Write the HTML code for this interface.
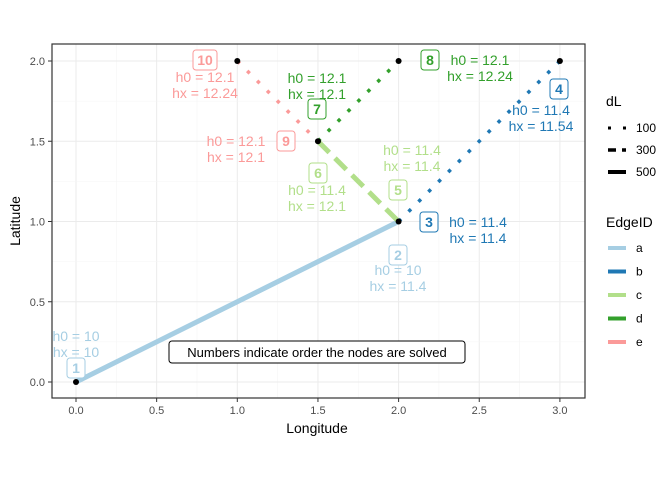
<!DOCTYPE html>
<html><head><meta charset="utf-8"><style>
body{margin:0;background:#fff;}
svg text{font-family:"Liberation Sans",Arial,sans-serif;}
</style></head><body>
<svg id="chart" width="672" height="480" xmlns="http://www.w3.org/2000/svg">
<defs><clipPath id="pc"><rect x="52" y="44" width="533" height="354"/></clipPath></defs>
<rect x="52" y="44" width="533" height="354" fill="#fff"/>
<g id="grid"></g>
<g id="edges" clip-path="url(#pc)"></g>
<g id="nodes" clip-path="url(#pc)"></g>
<g id="labels" clip-path="url(#pc)"></g>
<rect x="52" y="44" width="533" height="354" fill="none" stroke="#333" stroke-width="1.2"/>
<g id="axes"></g>
<text x="317" y="433" font-size="14" text-anchor="middle">Longitude</text>
<text transform="translate(20,221) rotate(-90)" font-size="14" text-anchor="middle">Latitude</text>
<g>
<rect x="169" y="341" width="296" height="22" rx="3" fill="#fff" stroke="#000" stroke-width="1"/>
<text x="317" y="357" font-size="13" text-anchor="middle">Numbers indicate order the nodes are solved</text>
</g>
<g>
<text x="606" y="106" font-size="14">dL</text>
<line x1="608" y1="128" x2="626" y2="128" stroke="#000" stroke-width="3" stroke-dasharray="3 12"/>
<text x="636" y="132" font-size="12">100</text>
<line x1="608" y1="150" x2="626" y2="150" stroke="#000" stroke-width="3.5" stroke-dasharray="8 6"/>
<text x="636" y="154" font-size="12">300</text>
<line x1="608" y1="172" x2="626" y2="172" stroke="#000" stroke-width="4"/>
<text x="636" y="176" font-size="12">500</text>
</g>
<g id="legend-edge">
<text x="606" y="227" font-size="14">EdgeID</text>
</g>
</svg>
<script>
const categories=['a','b','c','d','e'];
const colors=['#A6CEE3','#1F78B4','#B2DF8A','#33A02C','#FB9A99'];
const fromX=[0,2,1.5,1.5,1];
const fromY=[0,1,1.5,1.5,2];
const toX=[2,3,2,2,1.5];
const toY=[1,2,1,2,1.5];
const dL=[500,100,300,100,100];
const nodeX=[0,2,3,1.5,1,2];
const nodeY=[0,1,2,1.5,2,2];
const xTicks=[0,0.5,1,1.5,2,2.5,3];
const yTicks=[0,0.5,1,1.5,2];
const xs=v=>76+v*161.3;
const ys=v=>382-v*160.5;
const NS='http://www.w3.org/2000/svg';
function mk(tag,attrs,parent){const e=document.createElementNS(NS,tag);for(const k in attrs)e.setAttribute(k,attrs[k]);parent.appendChild(e);return e;}
const grid=document.getElementById('grid'),axes=document.getElementById('axes');
xTicks.forEach((t,i)=>{
 const g=mk('line',{x1:xs(t),x2:xs(t),y1:44,y2:398,stroke:'#ebebeb','stroke-width':1},grid);
 
 
 if(i<xTicks.length-1){const m=mk('line',{x1:xs(t+0.25),x2:xs(t+0.25),y1:44,y2:398,stroke:'#f5f5f5','stroke-width':0.6},grid);
 
 }
 mk('line',{x1:xs(t),x2:xs(t),y1:398,y2:402,stroke:'#333'},axes);
 const tx=mk('text',{x:xs(t),y:414,'font-size':11,fill:'#4d4d4d','text-anchor':'middle'},axes);
 tx.textContent=t.toFixed(1);
 
 
});
yTicks.forEach((t,i)=>{
 const g=mk('line',{x1:52,x2:585,y1:ys(t),y2:ys(t),stroke:'#ebebeb','stroke-width':1},grid);
 
 
 if(i<yTicks.length-1){const m=mk('line',{x1:52,x2:585,y1:ys(t+0.25),y2:ys(t+0.25),stroke:'#f5f5f5','stroke-width':0.6},grid);
 
 }
 mk('line',{x1:48,x2:52,y1:ys(t),y2:ys(t),stroke:'#333'},axes);
 const tx=mk('text',{x:45,y:ys(t)+4,'font-size':11,fill:'#4d4d4d','text-anchor':'end'},axes);
 tx.textContent=t.toFixed(1);
 
 
});
const eg=document.getElementById('edges');
categories.forEach((c,i)=>{
 const st={500:{w:5,d:'none'},300:{w:5,d:'16 8'},100:{w:3.5,d:'3.5 10.5'}}[dL[i]];
 const l=mk('line',{x1:xs(fromX[i]),y1:ys(fromY[i]),x2:xs(toX[i]),y2:ys(toY[i]),stroke:colors[i],'stroke-width':st.w,'stroke-dasharray':st.d},eg);
 
 
});
const ng=document.getElementById('nodes');
nodeX.forEach((x,i)=>{
 const p=mk('circle',{cx:xs(x),cy:ys(nodeY[i]),r:3,fill:'#000'},ng);
 
 
});
const orderNum=['1','2','3','4','5','6','7','8','9','10'];
const orderCol=[0,0,1,1,2,2,3,3,4,4];
const boxPos=[[76,368],[398,255],[429,222],[559,89],[398,190],[318,173],[317,109],[430,60],[286,141],[205,60]];
const h0=['10','10','11.4','11.4','11.4','11.4','12.1','12.1','12.1','12.1'];
const hx=['10','11.4','11.4','11.54','11.4','12.1','12.1','12.24','12.1','12.24'];
const txtPos=[[76,341],[398,275],[478,227],[541,115],[412,155],[317,195],[317,83],[480,65],[236,146],[205,82]];
const lg=document.getElementById('labels');
orderNum.forEach((n,i)=>{
 const col=colors[orderCol[i]];
 const [bx,by]=boxPos[i];
 const w=n.length>1?24:18;
 const g=mk('g',{},lg);
 
 
 mk('rect',{x:bx-w/2,y:by-10,width:w,height:20,rx:3,fill:'#fff',stroke:col,'stroke-width':1},g);
 const t=mk('text',{x:bx,y:by+5,'font-size':14,'font-weight':'bold','text-anchor':'middle',fill:col},g);
 t.textContent=n;
 const [tx,ty]=txtPos[i];
 const a=mk('text',{x:tx,y:ty,'font-size':14,'text-anchor':'middle',fill:col},g);
 a.textContent='h0 = '+h0[i];
 const b=mk('text',{x:tx,y:ty+16,'font-size':14,'text-anchor':'middle',fill:col},g);
 b.textContent='hx = '+hx[i];
});
const le=document.getElementById('legend-edge');
categories.forEach((c,i)=>{
 const y=248+i*23.5;
 const l=mk('line',{x1:608,x2:626,y1:y,y2:y,stroke:colors[i],'stroke-width':4},le);
 
 
 const t=mk('text',{x:636,y:y+4,'font-size':12},le);
 t.textContent=c;
});
</script>
</body></html>
